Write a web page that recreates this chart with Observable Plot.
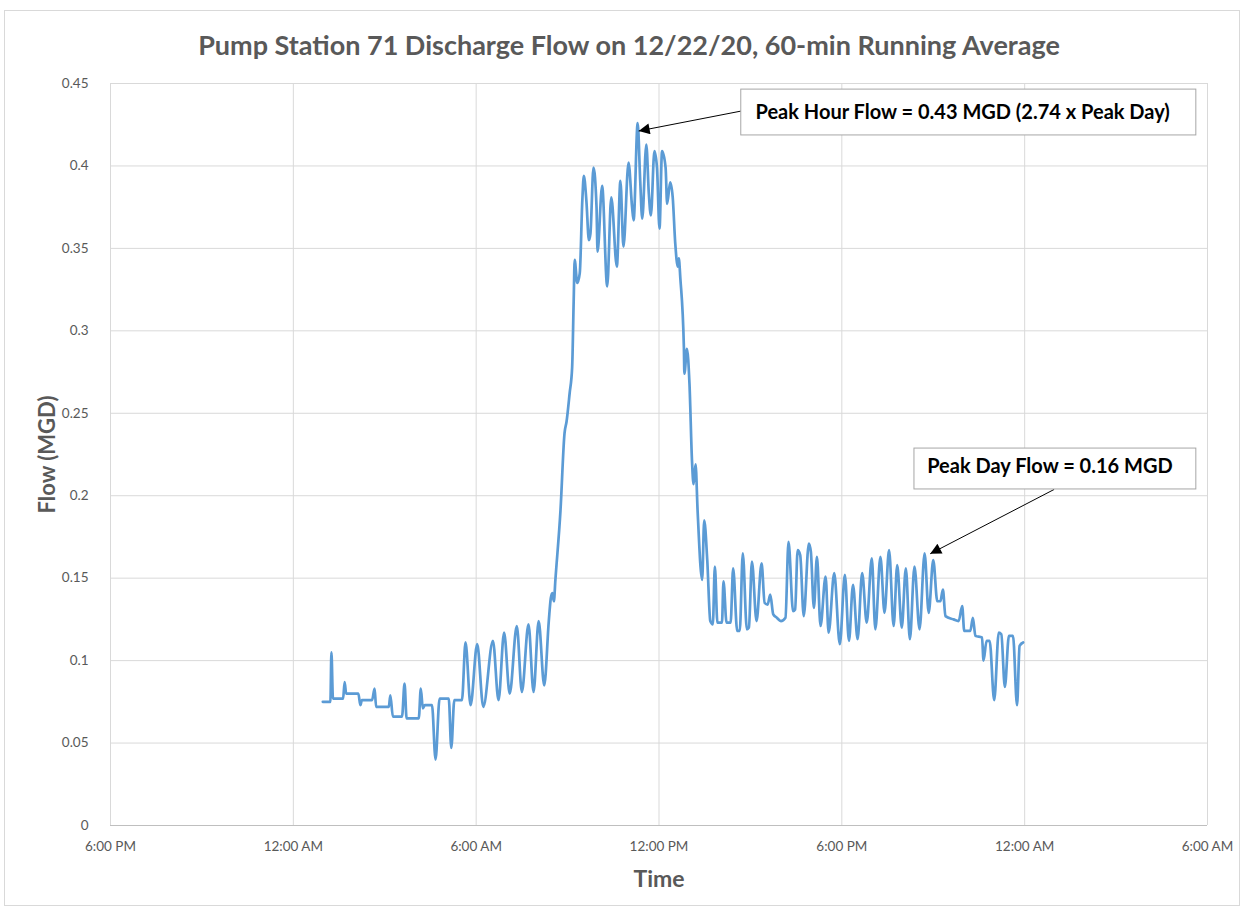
<!DOCTYPE html>
<html>
<head>
<meta charset="utf-8">
<script src="https://cdn.jsdelivr.net/npm/d3@7"></script>
<script src="https://cdn.jsdelivr.net/npm/@observablehq/plot@0.6"></script>
<style>
  body { margin: 0; background: #fff; }
  #wrap { position: relative; width: 1244px; height: 907px; font-family: Lato, "Open Sans", sans-serif; }
  #frame { position: absolute; left: 4px; top: 10px; width: 1234px; height: 894px; border: 1px solid #d9d9d9; pointer-events: none; }
  #title { height: 37px; padding-top: 29px; padding-left: 14px; line-height: 32px; text-align: center;
           font-size: 27px; font-weight: bold; color: #595959; }
  svg { display: block; }
</style>
</head>
<body>
<div id="wrap">
  <div id="frame"></div>
  <div id="title">Pump Station 71 Discharge Flow on 12/22/20, 60-min Running Average</div>
  <div id="chart"></div>
</div>
<script>
// ---- data (12/22/20, 60-min running average, MGD) ----
const times = ["00:58","01:13","01:15","01:18","01:38","01:41","01:44","02:08","02:12","02:15",
"02:35","02:40","02:43","03:08","03:11","03:16","03:34","03:39","03:43","04:07",
"04:11","04:15","04:19","04:33","04:40","04:48","05:06","05:11","05:17","05:32",
"05:39","05:49","06:02","06:14","06:33","06:44","06:55","07:06","07:20","07:30",
"07:43","07:53","08:03","08:14","08:23","08:27","08:30","08:33","08:36","08:46",
"08:54","08:58","09:04","09:09","09:12","09:14","09:19","09:24","09:29","09:32",
"09:37","09:42","09:45","09:51","09:57","09:59","10:08","10:18","10:26","10:37",
"10:44","10:50","11:00","11:07","11:10","11:18","11:23","11:27","11:35","11:40",
"11:44","11:51","11:56","12:01","12:06","12:13","12:16","12:22","12:27","12:32",
"12:37","12:39","12:42","12:49","12:50","12:55","13:00","13:05","13:08","13:12",
"13:16","13:25","13:29","13:35","13:41","13:46","13:50","13:55","14:04","14:07",
"14:13","14:21","14:26","14:34","14:39","14:45","14:53","14:57","15:03","15:12",
"15:22","15:28","15:34","15:39","15:45","15:52","16:00","16:09","16:15","16:24",
"16:28","16:33","16:38","16:45","16:55","16:59","17:05","17:11","17:18","17:28",
"17:34","17:45","17:56","18:06","18:14","18:22","18:31","18:40","18:49","18:59",
"19:06","19:16","19:24","19:33","19:42","19:49","19:58","20:06","20:14","20:23",
"20:33","20:43","20:51","21:00","21:08","21:14","21:19","21:24","21:40","21:50",
"21:57","22:01","22:13","22:18","22:23","22:36","22:39","22:45","22:51","23:00",
"23:09","23:14","23:21","23:29","23:37","23:45","23:50","23:57"];
const flows = [0.075,0.075,0.105,0.077,0.077,0.087,0.080,0.080,0.073,0.076,
0.076,0.083,0.072,0.072,0.079,0.066,0.066,0.086,0.065,0.065,
0.083,0.071,0.073,0.073,0.040,0.077,0.077,0.047,0.076,0.076,
0.111,0.073,0.110,0.072,0.112,0.076,0.117,0.080,0.121,0.081,
0.122,0.081,0.124,0.085,0.124,0.138,0.141,0.136,0.149,0.191,
0.238,0.245,0.262,0.278,0.318,0.343,0.329,0.335,0.379,0.394,
0.379,0.355,0.359,0.399,0.375,0.348,0.388,0.327,0.381,0.339,
0.391,0.351,0.402,0.375,0.367,0.426,0.391,0.368,0.413,0.383,
0.370,0.409,0.399,0.362,0.409,0.399,0.377,0.390,0.381,0.353,
0.339,0.344,0.332,0.290,0.274,0.289,0.268,0.221,0.207,0.219,
0.191,0.149,0.185,0.161,0.124,0.122,0.157,0.123,0.123,0.148,
0.123,0.123,0.156,0.118,0.118,0.165,0.119,0.120,0.160,0.124,
0.159,0.135,0.134,0.140,0.128,0.126,0.124,0.126,0.172,0.130,
0.131,0.167,0.164,0.127,0.171,0.166,0.132,0.163,0.121,0.151,
0.117,0.153,0.110,0.152,0.112,0.146,0.113,0.153,0.123,0.162,
0.119,0.163,0.129,0.167,0.121,0.158,0.120,0.156,0.113,0.157,
0.119,0.165,0.129,0.161,0.136,0.136,0.143,0.127,0.125,0.124,
0.133,0.118,0.118,0.126,0.115,0.114,0.100,0.112,0.112,0.076,
0.117,0.116,0.084,0.115,0.115,0.073,0.109,0.111];

// axis ticks
const xTickTimes = ["2020-12-21T18:00Z","2020-12-22T00:00Z","2020-12-22T06:00Z","2020-12-22T12:00Z",
                    "2020-12-22T18:00Z","2020-12-23T00:00Z","2020-12-23T06:00Z"];
const xTickLabels = ["6:00 PM","12:00 AM","6:00 AM","12:00 PM","6:00 PM","12:00 AM","6:00 AM"];
const yTicks = [0,0.05,0.1,0.15,0.2,0.25,0.3,0.35,0.4,0.45];
const yTickLabels = ["0","0.05","0.1","0.15","0.2","0.25","0.3","0.35","0.4","0.45"];

// annotations
const noteText = ["Peak Hour Flow = 0.43 MGD (2.74 x Peak Day)", "Peak Day Flow = 0.16 MGD"];
const noteTextX = ["2020-12-22T15:10Z", "2020-12-22T20:48Z"];
const noteTextY = [0.4325, 0.2175];
const noteBoxX1 = ["2020-12-22T14:42Z", "2020-12-22T20:23Z"];
const noteBoxX2 = ["2020-12-23T05:38Z", "2020-12-23T05:38Z"];
const noteBoxY1 = [0.4185, 0.2038];
const noteBoxY2 = [0.4463, 0.2286];
const arrowFromX = ["2020-12-22T14:42Z", "2020-12-23T00:58Z"];
const arrowFromY = [0.4333, 0.2038];
const arrowToX = ["2020-12-22T11:20Z", "2020-12-22T20:54Z"];
const arrowToY = [0.4212, 0.1648];

// ---- build tables ----
const series = times.map((t, i) => ({ time: new Date(`2020-12-22T${t}:00Z`), flow: flows[i] }));
const xTicks = xTickTimes.map(d => new Date(d));
const notes = noteText.map((t, i) => ({
  text: t,
  tx: new Date(noteTextX[i]), ty: noteTextY[i],
  bx1: new Date(noteBoxX1[i]), bx2: new Date(noteBoxX2[i]), by1: noteBoxY1[i], by2: noteBoxY2[i],
  ax1: new Date(arrowFromX[i]), ay1: arrowFromY[i], ax2: new Date(arrowToX[i]), ay2: arrowToY[i]
}));

const grid = "#d9d9d9";
const chart = Plot.plot({
  width: 1244,
  height: 841,
  marginLeft: 110,
  marginRight: 37,
  marginTop: 17,
  marginBottom: 82,
  style: { fontFamily: "Lato, 'Open Sans', sans-serif", fontSize: "13.5px", color: "#595959", background: "transparent" },
  x: {
    type: "utc",
    domain: [xTicks[0], xTicks[xTicks.length - 1]],
    ticks: xTicks,
    tickFormat: d => xTickLabels[xTicks.findIndex(t => +t === +d)],
    tickSize: 0,
    tickPadding: 16,
    label: null
  },
  y: {
    domain: [0, 0.45],
    ticks: yTicks,
    tickFormat: d => yTickLabels[yTicks.findIndex(t => Math.abs(t - d) < 1e-9)],
    tickSize: 0,
    tickPadding: 22,
    label: null
  },
  marks: [
    Plot.ruleX(xTicks, { stroke: grid, strokeWidth: 1 }),
    Plot.ruleY(yTicks.filter(d => d > 0), { stroke: grid, strokeWidth: 1 }),
    Plot.ruleY([0], { stroke: "#bfbfbf", strokeWidth: 1 }),
    Plot.line(series, { x: "time", y: "flow", stroke: "#5b9bd5", strokeWidth: 2.7, curve: "monotone-x" }),
    Plot.link(notes, { x1: "ax1", y1: "ay1", x2: "ax2", y2: "ay2", stroke: "#000", strokeWidth: 1 }),
    Plot.rect(notes, { x1: "bx1", x2: "bx2", y1: "by1", y2: "by2", fill: "#fff", stroke: "#a6a6a6", strokeWidth: 1 }),
    Plot.text(notes, { x: "tx", y: "ty", text: "text", textAnchor: "start", fontWeight: "bold", fontSize: 20, fill: "#000" }),
    Plot.text(["Time"], { frameAnchor: "bottom", dy: 61, textAnchor: "middle", fontWeight: "bold", fontSize: 23, fill: "#595959" }),
    Plot.text(["Flow (MGD)"], { frameAnchor: "left", dx: -63, textAnchor: "middle", rotate: -90, fontWeight: "bold", fontSize: 22, fill: "#595959" })
  ]
});
document.getElementById("chart").appendChild(chart);

// filled triangular arrow heads on the callout links
const svg = d3.select(chart);
svg.append("defs").append("marker")
  .attr("id", "tri").attr("viewBox", "0 0 10 10").attr("refX", 10).attr("refY", 5)
  .attr("markerUnits", "userSpaceOnUse").attr("markerWidth", 15).attr("markerHeight", 11)
  .attr("orient", "auto")
  .append("path").attr("d", "M0,0L10,5L0,10Z").attr("fill", "#000");
svg.selectAll("g[aria-label='link'] path, g[aria-label='link'] line").attr("marker-end", "url(#tri)");
</script>
</body>
</html>
